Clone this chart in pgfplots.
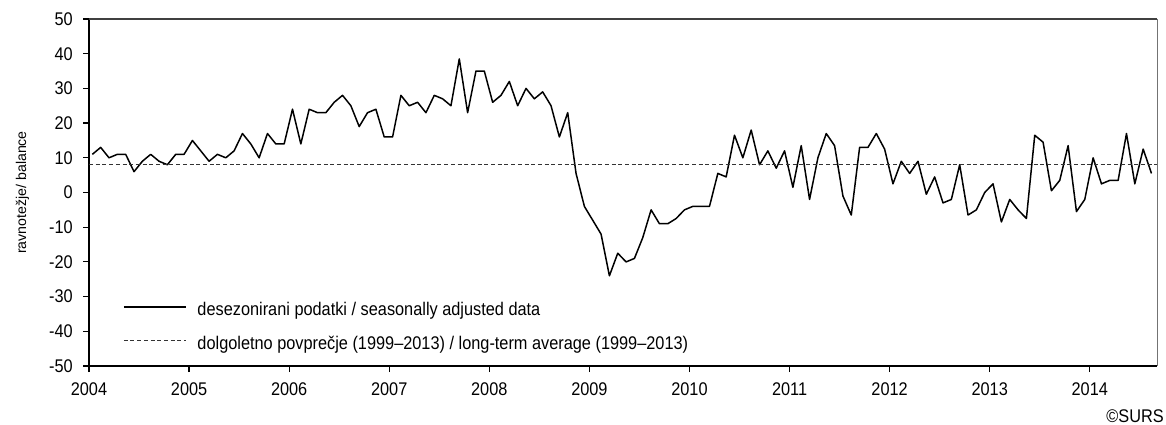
\documentclass[border=0pt]{standalone}
\usepackage{fontspec}
\setmainfont{Liberation Sans}[FakeStretch=0.89]
\newfontfamily\ylabfont{Liberation Sans}
\usepackage{pgfplots}
\pgfplotsset{compat=1.18}
\usepackage{pgfplotstable}

\pgfplotstableread{
m v
0 11
1 13
2 10
3 11
4 11
5 6
6 9
7 11
8 9
9 8
10 11
11 11
12 15
13 12
14 9
15 11
16 10
17 12
18 17
19 14
20 10
21 17
22 14
23 14
24 24
25 14
26 24
27 23
28 23
29 26
30 28
31 25
32 19
33 23
34 24
35 16
36 16
37 28
38 25
39 26
40 23
41 28
42 27
43 25
44 38.5
45 23
46 35
47 35
48 26
49 28
50 32
51 25
52 30
53 27
54 29
55 25
56 16
57 23
58 5.5
59 -4
60 -8
61 -12
62 -24
63 -17.5
64 -20
65 -19
66 -13
67 -5
68 -9
69 -9
70 -7.5
71 -5
72 -4
73 -4
74 -4
75 5.5
76 4.5
77 16.5
78 10
79 18
80 8
81 12
82 7
83 12
84 1.5
85 13.5
86 -2
87 10
88 17
89 13.5
90 -1
91 -6.5
92 13
93 13
94 17
95 12.5
96 2.5
97 9
98 5.5
99 9
100 -0.5
101 4.5
102 -3
103 -2
104 8
105 -6.5
106 -5
107 0
108 2.5
109 -8.5
110 -2
111 -5
112 -7.5
113 16.5
114 14.5
115 0.5
116 3.5
117 13.5
118 -5.5
119 -2
120 10
121 2.5
122 3.5
123 3.5
124 17
125 2.5
126 12.5
127 5.5
}\datatable

\pgfplotstableread{
m v
0 8
128.06 8
}\avgtable

\newcommand{\lblfont}{\fontsize{18.4}{20}\selectfont}

\begin{document}
\begin{tikzpicture}
\useasboundingbox (-89bp,-59bp) rectangle (1077bp,366bp);
\begin{axis}[
  at={(0,0)}, anchor=south west,
  scale only axis, width=1068bp, height=347bp,
  xmin=0, xmax=128.06, ymin=-50, ymax=50,
  axis lines*=left,
  axis line style={line width=1.6bp, black, -},
  tick align=outside,
  major tick length=6bp,
  xtick={0,12,...,120},
  xticklabels={2004,2005,2006,2007,2008,2009,2010,2011,2012,2013,2014},
  ytick={-50,-40,...,50},
  tick style={line width=1.2bp, black},
  /pgf/number format/assume math mode=true,
  ticklabel style={font=\lblfont},
  yticklabel style={inner sep=0pt, xshift=-10bp},
  xticklabel style={inner sep=0pt, yshift=-11bp},
  legend cell align=left,
  legend style={draw=none, fill=none, inner sep=0pt, outer sep=0pt,
    at={(rel axis cs:0,0)}, anchor=south west, xshift=34bp, yshift=15.5bp,
    font=\lblfont, row sep=18.5bp, column sep=11bp,
    nodes={inner sep=0pt}},
  legend image code/.code={\draw[#1] (0bp,0.3em) -- (62bp,0.3em);},
  clip=false,
]
\addplot[black, line width=1.5bp, line join=round] table[x expr=\thisrow{m}+0.4, y=v] {\datatable};
\addlegendentry{desezonirani podatki / seasonally adjusted data}
\addplot[black!80, line width=1bp, dash pattern=on 4bp off 2.7bp] table[x=m, y=v] {\avgtable};
\addlegendentry{dolgoletno povprečje (1999–2013) / long-term average (1999–2013)}
\draw[black!75, line width=1.3bp] (rel axis cs:0,1) -- (rel axis cs:1,1);
\draw[black!55, line width=1bp] (rel axis cs:1,1) -- (rel axis cs:1,0);
\end{axis}
\node[rotate=90, inner sep=0pt, font=\ylabfont\fontsize{14.2}{16}\selectfont] at (-66.5bp,173.5bp) {ravnotežje/ balance};
\node[anchor=south east, inner sep=0pt, font=\lblfont] at (1075bp,-57bp) {©SURS};
\end{tikzpicture}
\end{document}
